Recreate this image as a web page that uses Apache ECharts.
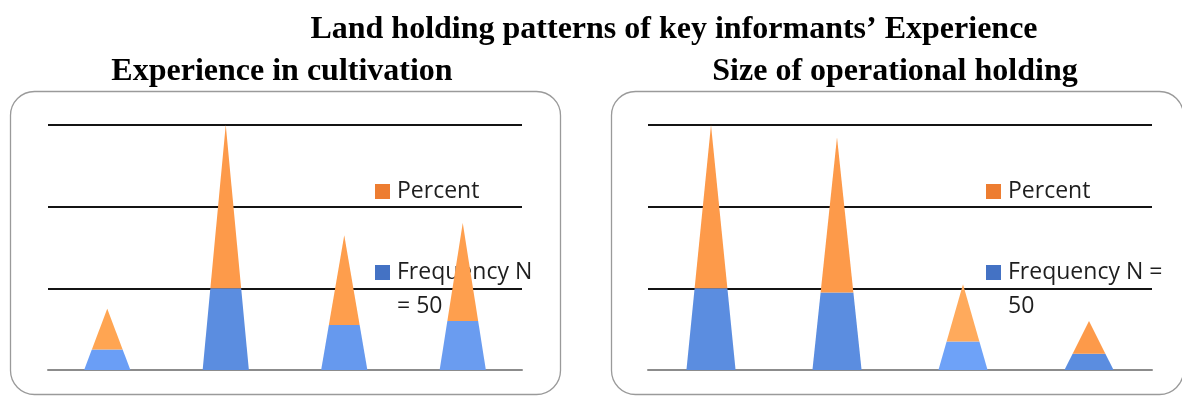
<!DOCTYPE html>
<html>
<head>
<meta charset="utf-8">
<style>
  html, body { margin: 0; padding: 0; background: #ffffff; }
  #chart { width: 1182px; height: 396px; }
</style>
<script src="https://cdn.jsdelivr.net/npm/echarts@6/dist/echarts.min.js"></script>
</head>
<body>
<div id="chart"></div>
<script>
// Experience classes (left panel) and holding-size classes (right panel)
const experienceClasses = ['Class I', 'Class II', 'Class III', 'Class IV'];
const holdingClasses = ['Marginal', 'Small', 'Medium', 'Large'];

// Key informants, N = 50
const experienceFrequency = [5, 20, 11, 12];
const experiencePercent = [10, 40, 22, 24];
const holdingFrequency = [20, 19, 7, 4];
const holdingPercent = [40, 38, 14, 8];

// Value axis ticks
const valueTicks = [0, 20, 40, 60];

// Shading of each pyramid (lit faces look lighter)
const shades = {
  left: {
    blue: ['#6a9ef6', '#5b8de0', '#6699ee', '#6a9cf0'],
    orange: ['#ffa552', '#fd9a4a', '#fe9e4d', '#fe9f4e']
  },
  right: {
    blue: ['#5b8de0', '#5b8de0', '#6ea2f8', '#5b8de0'],
    orange: ['#fd9a4a', '#fd9a4a', '#ffaa5c', '#fd9a4a']
  }
};

const BAR_RATIO = 0.39;

function pyramidSegment(part, palette) {
  return function (params, api) {
    const idx = api.value(0);
    const freq = api.value(1);
    const total = api.value(2);
    const base = api.coord([idx, 0]);
    const mid = api.coord([idx, freq]);
    const apex = api.coord([idx, total]);
    const w = api.size([1, 0])[0] * BAR_RATIO;
    const cx = base[0];
    const halfBase = w / 2;
    const halfMid = halfBase * (1 - freq / total);
    let points;
    let fill;
    if (part === 'freq') {
      points = [[cx - halfBase, base[1]], [cx + halfBase, base[1]], [cx + halfMid, mid[1]], [cx - halfMid, mid[1]]];
      fill = palette.blue[idx];
    } else {
      points = [[cx - halfMid, mid[1]], [cx + halfMid, mid[1]], [cx, apex[1]]];
      fill = palette.orange[idx];
    }
    return { type: 'polygon', shape: { points: points }, style: { fill: fill } };
  };
}

function segmentData(freqs, pcts) {
  return freqs.map((f, i) => [i, f, f + pcts[i]]);
}

const titleFont = { fontFamily: 'Liberation Serif', fontWeight: 'bold', fontSize: 32, color: '#000' };
const legendFont = '23px "Open Sans"';

function legendBlock(x, freqLabel) {
  return [
    { type: 'rect', shape: { x: x, y: 184, width: 15, height: 15 }, style: { fill: '#ed7d31' } },
    { type: 'text', x: x + 22, y: 191.5, style: { text: 'Percent', font: legendFont, fill: '#1e1e1e', verticalAlign: 'middle' } },
    { type: 'rect', shape: { x: x, y: 265, width: 15, height: 15 }, style: { fill: '#4472c4' } },
    { type: 'text', x: x + 22, y: 255.5, style: { text: freqLabel, font: legendFont, fill: '#1e1e1e', verticalAlign: 'top', lineHeight: 34 } }
  ];
}

const valueAxis = {
  type: 'value', min: valueTicks[0], max: valueTicks[valueTicks.length - 1], interval: 20,
  axisLine: { show: false }, axisTick: { show: false }, axisLabel: { show: false },
  splitLine: { lineStyle: { color: '#141414', width: 2 } }
};

const categoryAxisStyle = {
  axisLine: { lineStyle: { color: '#8c8c8c', width: 2 } },
  axisTick: { show: false },
  axisLabel: { show: false }
};

const option = {
  animation: false,
  title: [
    { text: 'Land holding patterns of key informants\u2019 Experience', left: 669, top: 9, textAlign: 'center', textStyle: titleFont },
    { text: 'Experience in cultivation', left: 277, top: 51, textAlign: 'center', textStyle: titleFont },
    { text: 'Size of operational holding', left: 890, top: 51, textAlign: 'center', textStyle: titleFont }
  ],
  grid: [
    { left: 48, top: 125, width: 474, height: 245 },
    { left: 648, top: 125, width: 504, height: 245 }
  ],
  xAxis: [
    Object.assign({ type: 'category', gridIndex: 0, data: experienceClasses }, categoryAxisStyle),
    Object.assign({ type: 'category', gridIndex: 1, data: holdingClasses }, categoryAxisStyle)
  ],
  yAxis: [
    Object.assign({ gridIndex: 0 }, valueAxis),
    Object.assign({ gridIndex: 1 }, valueAxis)
  ],
  series: [
    { type: 'custom', name: 'Frequency N = 50', xAxisIndex: 0, yAxisIndex: 0, z: 5, renderItem: pyramidSegment('freq', shades.left), data: segmentData(experienceFrequency, experiencePercent) },
    { type: 'custom', name: 'Percent', xAxisIndex: 0, yAxisIndex: 0, z: 5, renderItem: pyramidSegment('pct', shades.left), data: segmentData(experienceFrequency, experiencePercent) },
    { type: 'custom', name: 'Frequency N = 50', xAxisIndex: 1, yAxisIndex: 1, z: 5, renderItem: pyramidSegment('freq', shades.right), data: segmentData(holdingFrequency, holdingPercent) },
    { type: 'custom', name: 'Percent', xAxisIndex: 1, yAxisIndex: 1, z: 5, renderItem: pyramidSegment('pct', shades.right), data: segmentData(holdingFrequency, holdingPercent) }
  ],
  graphic: [
    { type: 'rect', z: -1, shape: { x: 10.5, y: 91.5, width: 550, height: 303, r: 24 }, style: { fill: 'none', stroke: '#9a9a9a', lineWidth: 1.3 } },
    { type: 'rect', z: -1, shape: { x: 611.5, y: 91.5, width: 572, height: 303, r: 24 }, style: { fill: 'none', stroke: '#9a9a9a', lineWidth: 1.3 } }
  ].concat(legendBlock(375, 'Frequency N\n= 50'), legendBlock(986, 'Frequency N =\n50'))
};

const chart = echarts.init(document.getElementById('chart'), null, { renderer: 'canvas' });
chart.setOption(option);
</script>
</body>
</html>
